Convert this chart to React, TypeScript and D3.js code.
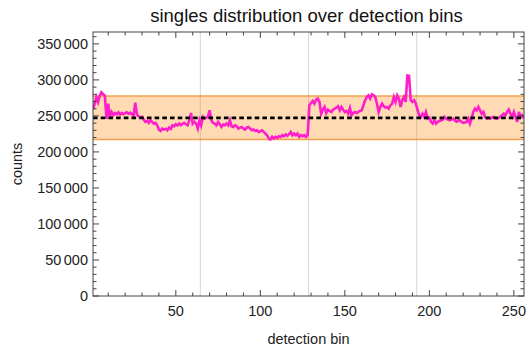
import React from "react";
import * as d3 from "d3";

const TITLE = "singles distribution over detection bins";
const X_LABEL = "detection bin";
const Y_LABEL = "counts";

const counts: number[] = [
  258700, 267000, 276000, 269000, 278000, 282800, 280000, 278000, 246000, 267000,
  248600, 255500, 251000, 254000, 252300, 255000, 251800, 254000, 252300, 254000,
  255000, 253000, 254600, 252300, 250400, 268400, 251800, 249500, 247700, 248600,
  244900, 241700, 243000, 240300, 244000, 241700, 239300, 240300, 237000, 231000,
  229200, 232400, 231000, 232000, 230000, 233800, 232000, 237000, 235600, 238400,
  237000, 239300, 237000, 239300, 240300, 238400, 237000, 244000, 254000, 239300,
  241700, 239300, 232400, 244000, 237000, 248600, 246300, 247700, 248600, 257800,
  244000, 240300, 239300, 237000, 241700, 238400, 234700, 238000, 237000, 239300,
  237000, 244000, 235600, 234700, 237000, 235600, 232400, 233800, 234700, 232400,
  231000, 233800, 234700, 232400, 230000, 231000, 229200, 230000, 227800, 228700,
  230000, 227800, 225500, 223200, 218600, 217200, 220900, 218600, 220900, 219500,
  221800, 220900, 223200, 221800, 224100, 222300, 224600, 227800, 223200, 225500,
  223200, 225500, 220900, 223200, 221800, 223200, 220900, 223200, 264800, 268000,
  270800, 267000, 272600, 274000, 269400, 253000, 258700, 262400, 254000, 258700,
  256900, 255500, 258700, 260100, 261500, 263400, 257800, 262400, 258700, 255500,
  256900, 253000, 261000, 250900, 254000, 255500, 254000, 255500, 256900, 257800,
  264800, 271700, 276300, 278600, 274000, 280000, 278600, 276300, 267000, 255500,
  262400, 267000, 263400, 261500, 262400, 260100, 264800, 267000, 276300, 269400,
  278600, 274000, 262400, 271700, 276300, 269400, 306000, 305500, 271700, 269400,
  271700, 267000, 258700, 250900, 248600, 253000, 248600, 255500, 246300, 247700,
  241700, 239300, 244000, 239300, 241700, 243000, 244000, 244900, 248600, 246300,
  245000, 244000, 245000, 246300, 244000, 242000, 243000, 244000, 242000, 240300,
  241000, 241700, 246300, 239300, 246300, 255500, 260100, 257800, 262400, 257800,
  253000, 255500, 248600, 246300, 247000, 246300, 247500, 248600, 247000, 246300,
  247500, 248600, 251000, 253000, 250900, 255500, 258700, 253000, 248600, 255500,
  248600, 241700, 255500, 248600, 250900, 246300,
];
const bins: number[] = counts.map((_, i) => i + 1);

const meanCount = 247300;
const bandLow = 217300;
const bandHigh = 277600;
const blockBoundaries = [64.5, 128.5, 192.5];

const xTicks = [50, 100, 150, 200, 250];
const yTicks = [0, 50000, 100000, 150000, 200000, 250000, 300000, 350000];

const W = 528;
const H = 350;
const left = 93;
const right = 524;
const top = 32;
const bottom = 296;

const fmtY = (v: number) => (v === 0 ? "0" : `${Math.round(v / 1000)}\u2006000`);

export default function App() {
  const x = d3.scaleLinear().domain([1, 256]).range([left, right]);
  const y = d3.scaleLinear().domain([0, 366500]).range([bottom, top]);

  const line = d3
    .line<number>()
    .x((_, i) => x(bins[i]))
    .y((d) => y(d));

  const xMinor = d3.range(10, 257, 10);
  const yMinor = d3.range(0, 366500, 10000);
  const axisColor = "#444";
  const font = "'Liberation Sans', Arial, Helvetica, sans-serif";

  return (
    <svg
      width={W}
      height={H}
      style={{ position: "absolute", left: 0, top: 0, background: "#fff" }}
      fontFamily={font}
    >
      <defs>
        <clipPath id="plotclip">
          <rect x={left} y={top} width={right - left} height={bottom - top} />
        </clipPath>
      </defs>
      <rect
        x={left}
        y={y(bandHigh)}
        width={right - left}
        height={y(bandLow) - y(bandHigh)}
        fill="#FFDAB3"
      />
      <line x1={left} x2={right} y1={y(bandHigh)} y2={y(bandHigh)} stroke="#F5A04C" strokeWidth={1.5} />
      <line x1={left} x2={right} y1={y(bandLow)} y2={y(bandLow)} stroke="#F5A04C" strokeWidth={1.5} />
      {blockBoundaries.map((b) => (
        <line key={b} x1={x(b)} x2={x(b)} y1={top} y2={bottom} stroke="#999" strokeOpacity={0.4} strokeWidth={1} />
      ))}
      <g clipPath="url(#plotclip)">
        <path d={line(counts) || ""} fill="none" stroke="#FF1ECC" strokeWidth={2.6} strokeLinejoin="miter" />
      </g>
      <line
        x1={left}
        x2={right}
        y1={y(meanCount)}
        y2={y(meanCount)}
        stroke="#000"
        strokeWidth={2.6}
        strokeDasharray="4.6,3.1"
      />
      <rect x={left} y={top} width={right - left} height={bottom - top} fill="none" stroke={axisColor} strokeWidth={1} />
      {xMinor.map((t) => {
        const major = t % 50 === 0;
        const len = major ? 6 : 3.5;
        return (
          <g key={"xt" + t}>
            <line x1={x(t)} x2={x(t)} y1={bottom} y2={bottom - len} stroke={axisColor} />
            <line x1={x(t)} x2={x(t)} y1={top} y2={top + len} stroke={axisColor} />
          </g>
        );
      })}
      {yMinor.map((t) => {
        const major = t % 50000 === 0;
        const len = major ? 6 : 3.5;
        return (
          <g key={"yt" + t}>
            <line x1={left} x2={left + len} y1={y(t)} y2={y(t)} stroke={axisColor} />
            <line x1={right} x2={right - len} y1={y(t)} y2={y(t)} stroke={axisColor} />
          </g>
        );
      })}
      {xTicks.map((t) => (
        <text key={"xl" + t} x={x(t)} y={bottom + 20} textAnchor="middle" fontSize={14.5} fill="#222">
          {t}
        </text>
      ))}
      {yTicks.map((t) => (
        <text key={"yl" + t} x={left - 5} y={y(t) + 5} textAnchor="end" fontSize={14.5} fill="#222">
          {fmtY(t)}
        </text>
      ))}
      <text x={(left + right) / 2 - 2} y={22} textAnchor="middle" fontSize={18.5} fill="#111">
        {TITLE}
      </text>
      <text x={(left + right) / 2} y={344} textAnchor="middle" fontSize={14.5} fill="#222">
        {X_LABEL}
      </text>
      <text
        transform={`translate(22,${(top + bottom) / 2}) rotate(-90)`}
        textAnchor="middle"
        fontSize={14.5}
        fill="#222"
      >
        {Y_LABEL}
      </text>
    </svg>
  );
}
